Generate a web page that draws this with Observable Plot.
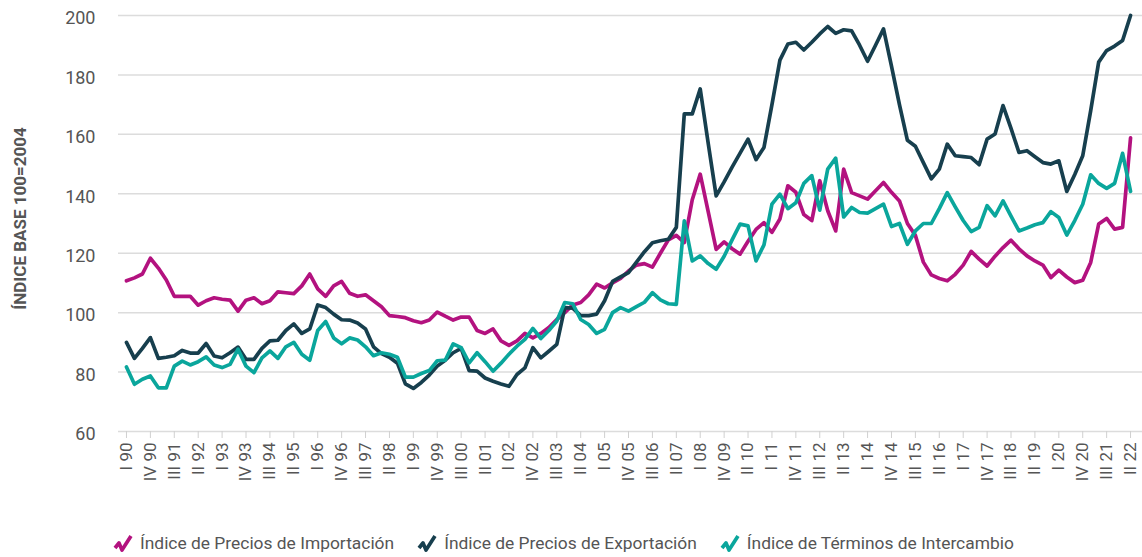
<!DOCTYPE html>
<html><head><meta charset="utf-8">
<script src="https://cdn.jsdelivr.net/npm/d3@7"></script>
<script src="https://cdn.jsdelivr.net/npm/@observablehq/plot@0.6"></script>
<style>
body{margin:0;background:#fff;font-family:Roboto,sans-serif;}
#chart{position:absolute;left:0;top:0;}
#legend{position:absolute;left:113px;top:533px;display:flex;align-items:center;font-size:17.4px;color:#555;white-space:nowrap;}
.item{display:flex;align-items:center;margin-right:23px;}
.item svg{margin-right:6px;}
</style></head><body>
<div id="chart"></div><div id="legend"></div>
<script>
const tickLabels = ["I 90","IV 90","III 91","II 92","I 93","IV 93","III 94","II 95","I 96","IV 96","III 97","II 98","I 99","IV 99","III 00","II 01","I 02","IV 02","III 03","II 04","I 05","IV 05","III 06","II 07","I 08","IV 09","II 10","I 11","IV 11","III 12","II 13","I 14","IV 14","III 15","II 16","I 17","IV 17","III 18","II 19","I 20","IV 20","III 21","II 22"];

const importIdx = [
110.7,111.7,113,118.3,115,111,105.5,105.5,105.5,102.5,
104,105,104.5,104.2,100.5,104.2,105,103,104,107,
106.7,106.4,109,113,108,105.5,109,110.5,106.5,105.5,
106,104,102,99,98.7,98.3,97.3,96.6,97.5,100.2,
98.8,97.5,98.5,98.5,94,93,94.5,90.5,89,90.5,
93,91.5,93,95,97.7,100,102.6,103.4,106,109.6,
108.3,110,111.5,114,116,116.5,115.3,120,124.5,126,
123.6,138,146.6,134,121.3,123.8,121.5,119.7,124,128,
130.3,127,131.5,142.7,140.5,133,131,144.4,134.3,127.5,
148.3,140.4,139.3,138.2,141,143.8,140.5,137.6,130,126,
117,112.7,111.5,110.7,112.9,116,120.6,118,115.7,119,
121.9,124.4,121.5,119.1,117.4,116,111.8,114.3,112,110.1,
110.9,116.9,129.8,131.7,128.1,128.7,158.8];

const exportIdx = [
90,84.6,88,91.6,84.6,85,85.5,87.3,86.4,86.4,
89.6,85.4,84.8,86.5,88.4,84.3,84.3,88,90.5,90.7,
94,96.2,93,94.5,102.6,101.7,99.5,97.6,97.5,96.5,
94.5,88.5,86.2,85,83,76,74.5,76.5,79,82,
84,86.5,88,80.5,80.3,78,76.9,76,75.2,79.2,
81.4,88.2,84.8,87,89.3,101.7,101.5,99,99,99.5,
104,110.5,112,113.5,117,120.5,123.5,124.2,124.7,128.7,
166.9,166.9,175.3,157,139.3,144,149,153.7,158.4,151.5,
155.6,170,185,190.4,191,188.4,191,193.8,196.3,194,
195.2,194.8,190,184.6,190,195.5,183,170,158,156,
150.5,145,148.3,156.7,152.8,152.5,152.2,149.8,158.4,160.1,
169.7,162,153.9,154.5,152.5,150.5,150,151.1,140.8,146.5,
152.8,168,184.3,188.2,189.7,191.6,200];

const termsIdx = [
81.7,75.9,77.6,78.7,74.7,74.7,82,83.7,82.4,83.5,
85.1,82.4,81.5,82.6,87.7,82,79.8,84.8,87.1,84.6,
88.5,90,86,84,94,97,91.5,89.5,91.5,90.8,
88.5,85.5,86.5,86,85,78.3,78.3,79.5,80.5,83.8,
84,89.5,88.2,83.1,86.5,83.5,80.3,83,86,88.7,
91,94.7,91.3,94,97.2,103.4,103,97.7,96,93,
94.4,100,101.7,100.5,102,103.5,106.7,104.3,103,102.8,
130.9,117.4,119.1,116.5,114.6,119,124.5,129.8,129.2,117.4,
122.8,136.5,139.9,135,137,143.5,146.1,134.5,148.3,152,
132.2,135.4,133.7,133.5,135,136.5,129,130,123,127.5,
130,130,135,140.4,135.6,131,127.3,128.7,136,132.6,
137.6,132.5,127.5,128.5,129.6,130.3,134,132,126.1,131,
136.5,146.4,143.5,141.8,143.5,153.6,140.8];

const seriesNames = ["Índice de Precios de Importación","Índice de Precios de Exportación","Índice de Términos de Intercambio"];
const seriesColors = ["#b3127f","#173f4e","#0aa69c"];
const yTicks = [60,80,100,120,140,160,180,200];
const yTitle = "ÍNDICE BASE 100=2004";

const seriesValues = [importIdx, exportIdx, termsIdx];
const rows = seriesValues.map((vals, s) => vals.map((v, i) => ({i, v, s: seriesNames[s]})));
const tickIdx = tickLabels.map((_, k) => k * 3);

const plot = Plot.plot({
  width: 1142, height: 515,
  marginLeft: 118, marginRight: 0, marginTop: 15, marginBottom: 84,
  style: {fontFamily: "Roboto, sans-serif", background: "white", color: "#555"},
  x: {type: "linear", domain: [-1, 127.5]},
  y: {domain: [60, 200]},
  marks: [
    Plot.gridY(yTicks, {stroke: "#dcdcdc", strokeOpacity: 1, strokeWidth: 1.5}),
    Plot.axisY(yTicks, {tickSize: 0, tickPadding: 23, fontSize: 18, fill: "#555", label: null, dy: 3}),
    Plot.axisX(tickIdx, {tickFormat: d => tickLabels[Math.round(d / 3)], tickRotate: -90, tickSize: 7, tickPadding: 4, stroke: "#d0d0d0", fill: "#555", fontSize: 17, label: null}),
    ...rows.map((r, s) => Plot.line(r, {x: "i", y: "v", stroke: seriesColors[s], strokeWidth: 3.7, strokeLinejoin: "round"})),
    Plot.text([yTitle], {text: d => d, frameAnchor: "left", textAnchor: "middle", dx: -98, dy: -5, rotate: -90, fontWeight: "bold", fontSize: 17, fill: "#555"})
  ]
});
document.getElementById("chart").appendChild(plot);

const legend = document.getElementById("legend");
seriesNames.forEach((name, s) => {
  const item = document.createElement("div");
  item.className = "item";
  item.innerHTML = `<svg width="21" height="19" viewBox="0 0 21 19"><path d="M2,14 L6,9 L9,16 L18,2" fill="none" stroke="${seriesColors[s]}" stroke-width="3.7" stroke-linejoin="round"/></svg><span>${name}</span>`;
  legend.appendChild(item);
});
</script>
</body></html>
